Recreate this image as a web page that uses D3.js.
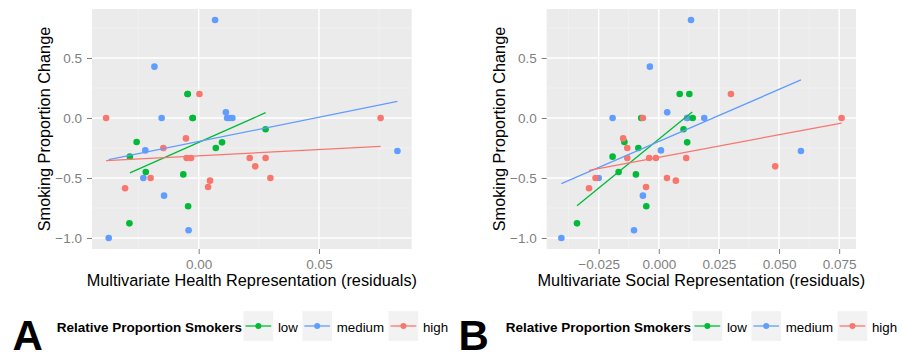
<!DOCTYPE html>
<html>
<head>
<meta charset="utf-8">
<script src="https://cdn.jsdelivr.net/npm/d3@7"></script>
<style>
  body { margin: 0; background: #fff; }
  svg { display: block; font-family: "Liberation Sans", Arial, Helvetica, sans-serif; }
</style>
</head>
<body>
<div id="chart"></div>
<script>
    // Groups and colours
    var groups = ["low", "medium", "high"];
    var groupColors = ["#00BA38", "#619CFF", "#F8766D"];

    // Points: group, change (y), health residual (panel A x), social residual (panel B x)
    var pointGroup = [
      "high", "high", "high", "high", "high", "high", "high", "high", "high", "high", "high", "high", "high", "high", "high",
      "medium", "medium", "medium", "medium", "medium", "medium", "medium", "medium", "medium", "medium", "medium", "medium", "medium",
      "low", "low", "low", "low", "low", "low", "low", "low", "low", "low", "low", "low", "low"
    ];
    var smokingChange = [
      0, 0, 0.2, -0.17, -0.25, -0.333, -0.333, -0.333, -0.333, -0.403, -0.5, -0.5, -0.522, -0.575, -0.586,
      0.817, 0.428, 0.047, 0, 0, 0, 0, -0.27, -0.275, -0.5, -0.647, -0.936, -1.0,
      0.2, 0.2, 0, 0, -0.094, -0.2, -0.203, -0.25, -0.322, -0.45, -0.47, -0.736, -0.878
    ];
    var healthResid = [
      -0.0385, 0.0756, 0.0003, -0.0053, -0.0147, -0.0050, -0.0032, 0.0212, 0.0278, 0.0235, -0.0200, 0.0298, 0.0047, 0.0039, -0.0306,
      0.0068, -0.0184, 0.0113, -0.0154, 0.0118, 0.0129, 0.0140, -0.0222, 0.0826, -0.0230, -0.0144, -0.0042, -0.0374,
      -0.0046, -0.0046, -0.0025, -0.0025, 0.0278, -0.0258, 0.0097, 0.0071, -0.0286, -0.0220, -0.0064, -0.0044, -0.0288
    ];
    var socialResid = [
      -0.0066, 0.0760, 0.0300, -0.0148, -0.0131, -0.0131, -0.0040, -0.0012, 0.0114, 0.0484, -0.0263, 0.0034, 0.0071, -0.0053, -0.0290,
      0.0134, -0.0037, 0.0035, -0.0192, 0.0118, 0.0118, 0.0189, 0.0009, 0.0591, -0.0250, -0.0066, -0.0103, -0.0405,
      0.0087, 0.0127, -0.0073, 0.0141, 0.0103, -0.0143, 0.0118, -0.0085, -0.0192, -0.0167, -0.0095, -0.0052, -0.0340
    ];

    // Fitted lines per group (low, medium, high): [start, end]
    var healthFitX = [[-0.0286, 0.0278], [-0.0374, 0.0826], [-0.0385, 0.0756]];
    var healthFitY = [[-0.458, 0.044], [-0.347, 0.139], [-0.356, -0.236]];
    var socialFitX = [[-0.0340, 0.0139], [-0.0405, 0.0591], [-0.0290, 0.0760]];
    var socialFitY = [[-0.731, 0.050], [-0.547, 0.317], [-0.436, -0.042]];

    // Tick values
    var yMajor = [0.5, 0.0, -0.5, -1.0];
    var yMinor = [0.75, 0.25, -0.25, -0.75];
    var healthMajor = [0.00, 0.05];
    var healthMinor = [-0.025, 0.025, 0.075];
    var socialMajor = [-0.025, 0.000, 0.025, 0.050, 0.075];
    var socialMinor = [-0.0375, -0.0125, 0.0125, 0.0375, 0.0625];

    var svg = d3.select("#chart")
      .append("svg")
      .attr("width", 903)
      .attr("height", 356);

    // Shared y scale
    var yScale = d3.scaleLinear()
      .domain([0.9083, -1.0917])
      .range([9, 249]);

    var panels = [
      {
        letter: "A", left: 92, right: 411.7, domain: [-0.04435, 0.08853],
        xValues: healthResid, fitX: healthFitX, fitY: healthFitY,
        major: healthMajor, minor: healthMinor, fmt: d3.format(".2f"),
        xTitle: "Multivariate Health Representation (residuals)",
        yTitleX: 50, letterX: 12.5, legendX: 56.7
      },
      {
        letter: "B", left: 546.7, right: 856, domain: [-0.0466, 0.0820],
        xValues: socialResid, fitX: socialFitX, fitY: socialFitY,
        major: socialMajor, minor: socialMinor, fmt: d3.format(".3f"),
        xTitle: "Multivariate Social Representation (residuals)",
        yTitleX: 505, letterX: 458.5, legendX: 505.7
      }
    ];

    panels.forEach(function (p) {
      drawPanel(p);
    });

    // Function to draw one panel with its axes and legend
    function drawPanel(p) {
      var xScale = d3.scaleLinear().domain(p.domain).range([p.left, p.right]);
      var top = yScale.range()[0], bottom = yScale.range()[1];
      var g = svg.append("g");

      // Background
      g.append("rect")
        .attr("x", p.left).attr("y", top)
        .attr("width", p.right - p.left).attr("height", bottom - top)
        .attr("fill", "#ebebeb");

      // Minor grid
      g.selectAll(".hminor").data(yMinor).enter().append("line")
        .attr("x1", p.left).attr("x2", p.right)
        .attr("y1", function (d) { return yScale(d); })
        .attr("y2", function (d) { return yScale(d); })
        .attr("stroke", "#f3f3f3").attr("stroke-width", 0.8);
      g.selectAll(".vminor").data(p.minor).enter().append("line")
        .attr("y1", top).attr("y2", bottom)
        .attr("x1", function (d) { return xScale(d); })
        .attr("x2", function (d) { return xScale(d); })
        .attr("stroke", "#f3f3f3").attr("stroke-width", 0.8);

      // Major grid
      g.selectAll(".hmajor").data(yMajor).enter().append("line")
        .attr("x1", p.left).attr("x2", p.right)
        .attr("y1", function (d) { return yScale(d); })
        .attr("y2", function (d) { return yScale(d); })
        .attr("stroke", "#ffffff").attr("stroke-width", 1.4);
      g.selectAll(".vmajor").data(p.major).enter().append("line")
        .attr("y1", top).attr("y2", bottom)
        .attr("x1", function (d) { return xScale(d); })
        .attr("x2", function (d) { return xScale(d); })
        .attr("stroke", "#ffffff").attr("stroke-width", 1.4);

      // Points, drawn blue, then green, then red
      var order = ["medium", "low", "high"];
      var idx = d3.range(pointGroup.length).sort(function (a, b) {
        return order.indexOf(pointGroup[a]) - order.indexOf(pointGroup[b]);
      });
      g.selectAll(".point").data(idx).enter().append("circle")
        .attr("cx", function (i) { return xScale(p.xValues[i]); })
        .attr("cy", function (i) { return yScale(smokingChange[i]); })
        .attr("r", 3.3)
        .attr("fill", function (i) { return groupColors[groups.indexOf(pointGroup[i])]; });

      // Fitted lines
      groups.forEach(function (grp, k) {
        g.append("line")
          .attr("x1", xScale(p.fitX[k][0])).attr("y1", yScale(p.fitY[k][0]))
          .attr("x2", xScale(p.fitX[k][1])).attr("y2", yScale(p.fitY[k][1]))
          .attr("stroke", groupColors[k]).attr("stroke-width", 1.3);
      });

      // Y axis
      var yAxis = d3.axisLeft(yScale).tickValues(yMajor).tickFormat(d3.format(".1f"))
        .tickSize(5).tickPadding(5);
      var ya = svg.append("g")
        .attr("transform", "translate(" + p.left + ",0)")
        .call(yAxis);
      styleAxis(ya);

      // X axis
      var xAxis = d3.axisBottom(xScale).tickValues(p.major).tickFormat(p.fmt)
        .tickSize(5).tickPadding(5);
      var xa = svg.append("g")
        .attr("transform", "translate(0," + bottom + ")")
        .call(xAxis);
      styleAxis(xa);

      // Axis titles
      svg.append("text")
        .attr("x", (p.left + p.right) / 2).attr("y", 285.5)
        .attr("text-anchor", "middle")
        .style("font-size", "16.3px").attr("fill", "#000")
        .text(p.xTitle);
      svg.append("text")
        .attr("transform", "translate(" + p.yTitleX + "," + ((top + bottom) / 2) + ") rotate(-90)")
        .attr("text-anchor", "middle")
        .style("font-size", "16.3px").attr("fill", "#000")
        .text("Smoking Proportion Change");

      // Panel letter
      svg.append("text")
        .attr("x", p.letterX).attr("y", 349.5)
        .style("font-size", "42px").style("font-weight", "bold")
        .attr("fill", "#000")
        .text(p.letter);

      // Legend
      var lg = svg.append("g");
      var title = lg.append("text")
        .attr("x", p.legendX).attr("y", 331.5)
        .style("font-size", "13.5px").style("font-weight", "bold")
        .text("Relative Proportion Smokers");
      var x = p.legendX + title.node().getComputedTextLength() + 1.5;
      groups.forEach(function (grp, k) {
        lg.append("rect")
          .attr("x", x).attr("y", 311.2)
          .attr("width", 29.7).attr("height", 29.7)
          .attr("fill", "#f2f2f2");
        lg.append("line")
          .attr("x1", x + 2).attr("x2", x + 27.7)
          .attr("y1", 326).attr("y2", 326)
          .attr("stroke", groupColors[k]).attr("stroke-width", 1.3);
        lg.append("circle")
          .attr("cx", x + 14.85).attr("cy", 326).attr("r", 3)
          .attr("fill", groupColors[k]);
        var lab = lg.append("text")
          .attr("x", x + 34.4).attr("y", 331.5)
          .style("font-size", "13.3px").attr("fill", "#000")
          .text(grp);
        x = x + 34.4 + lab.node().getComputedTextLength() + 4.5;
      });
    }

    // Function to give the axes the grey ggplot look
    function styleAxis(sel) {
      sel.select(".domain").remove();
      sel.selectAll(".tick line").attr("stroke", "#7f7f7f");
      sel.selectAll(".tick text")
        .attr("fill", "#7f7f7f")
        .style("font-size", "13.5px")
        .style("font-family", "\"Liberation Sans\", Arial, Helvetica, sans-serif");
    }
</script>
</body>
</html>
